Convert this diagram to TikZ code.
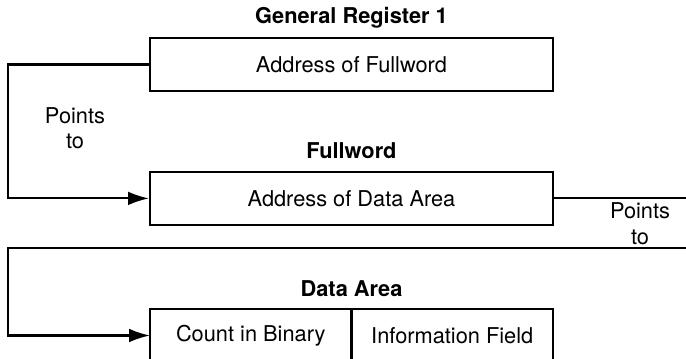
\documentclass[tikz,border=0pt]{standalone}
\usepackage{fontspec}
\setmainfont{TeX Gyre Heros}
\usetikzlibrary{arrows.meta, positioning}

\begin{document}
\begin{tikzpicture}[>={Latex[length=5.2mm,width=3.4mm]}, line width=1.5pt,
    font=\fontsize{15.5}{18}\selectfont,
    word/.style={draw, rectangle, minimum width=10.075cm, minimum height=1.325cm, inner sep=0pt},
    half/.style={draw, rectangle, minimum width=5.0375cm, minimum height=1.325cm, inner sep=0pt, outer sep=0pt},
    title/.style={font=\fontsize{15.5}{18}\selectfont\bfseries, inner sep=0pt, anchor=base},
    note/.style={align=center, inner sep=0pt}]
    \useasboundingbox (0, 0) rectangle (17.15, 8.95);

    % register 1
    \node [word] (reg) at (8.7875, 7.3375) {Address of Fullword};
    \node [title, above=0.33cm of reg.north, anchor=base] (regname) {General Register 1};

    % fullword
    \node [word] (fw) at (8.7875, 3.99) {Address of Data Area};
    \node [title, above=0.30cm of fw.north, anchor=base] (fwname) {Fullword};

    % data area
    \node [half] (cnt) at (6.26875, 0.5625) {Count in Binary};
    \node [half, right=0pt of cnt] (info) {Information Field};
    \node [title, above=0.31cm of cnt.north east, anchor=base] (dataname) {Data Area};

    %% pointers
    \coordinate (lft) at (0.2, 2.75);
    \coordinate (ret) at (17.15, 2.75);
    \coordinate (rgt) at (17.15, 3.99);
    \draw [->] (reg.west) -- (reg.west -| lft) |- (fw.west);
    \node [note] (pt1) at (1.875, 5.74) {Points\\to};
    \draw (fw.east) -- (fw.east -| rgt);
    \draw [->] (ret) -- (lft) |- (cnt.west);
    \node [note] (pt2) at (16.0, 3.36) {Points\\to};
\end{tikzpicture}
\end{document}
